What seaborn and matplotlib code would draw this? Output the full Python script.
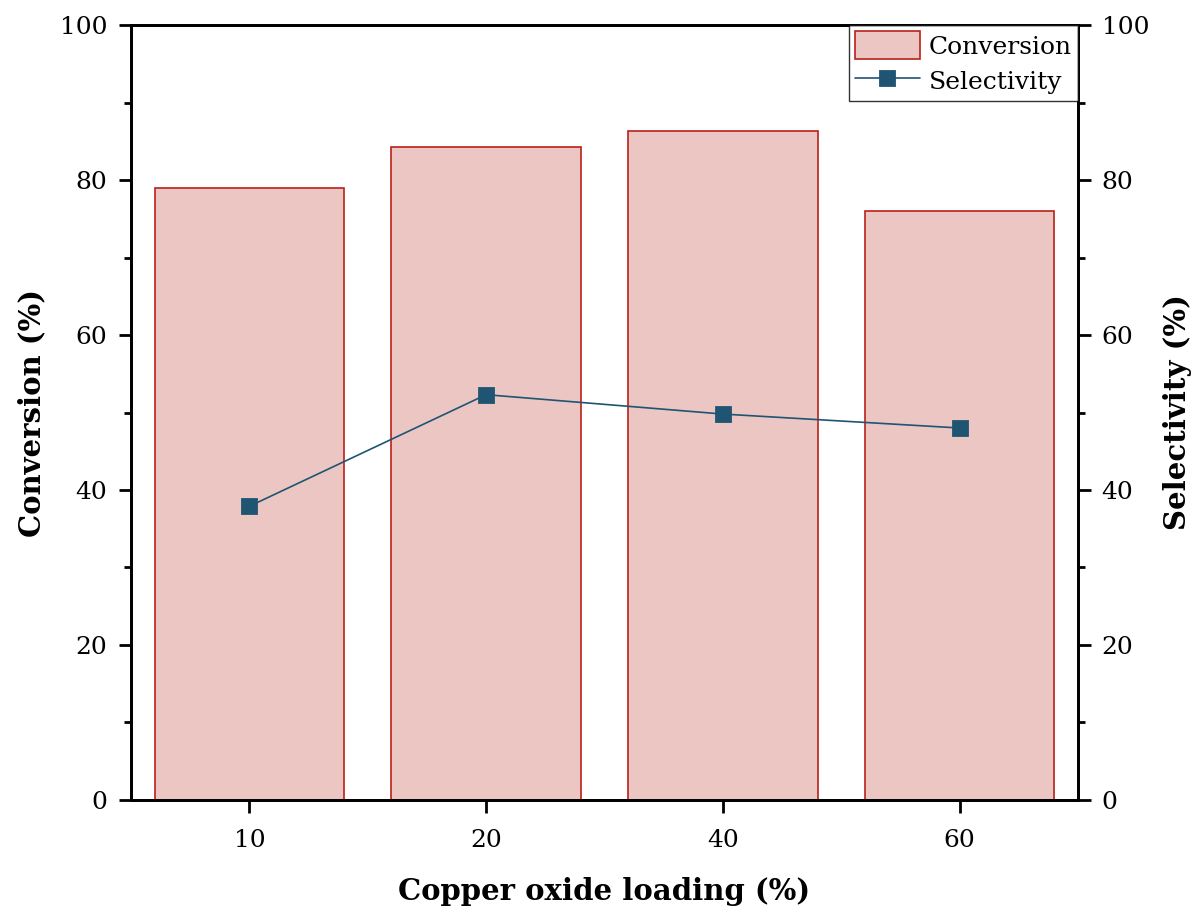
import matplotlib
matplotlib.use("Agg")
import matplotlib.pyplot as plt
from matplotlib.ticker import MultipleLocator
import seaborn as sns
import pandas as pd

# Catalyst screening data
loadings = ["10", "20", "40", "60"]
conversion = [79.0, 84.3, 86.3, 76.0]
selectivity = [37.9, 52.3, 49.8, 48.0]

sns.set_style("white")
plt.rcParams["font.family"] = ["DejaVu Serif"]
plt.rcParams["text.color"] = "black"
plt.rcParams["axes.labelcolor"] = "black"
plt.rcParams["xtick.color"] = "black"
plt.rcParams["ytick.color"] = "black"

df = pd.DataFrame({"loading": loadings, "conversion": conversion,
                   "selectivity": selectivity})

fig = plt.figure(figsize=(11.95, 9.07), dpi=100)
ax = fig.add_axes([0.1096, 0.118, 0.7925, 0.8544])

bar_fill = "#ECC6C3"
bar_edge = "#B8221A"
line_col = "#1F5473"

sns.barplot(data=df, x="loading", y="conversion", order=loadings,
            color=bar_fill, edgecolor=bar_edge, linewidth=1.2, width=0.8,
            saturation=1, ax=ax)

ax2 = ax.twinx()
sns.pointplot(data=df, x="loading", y="selectivity", order=loadings,
              color=line_col, markers="s", linestyles="-",
              ax=ax2)
for ln in ax2.lines:
    ln.set_linewidth(1.2)
    ln.set_markersize(10)

for a in (ax, ax2):
    a.set_xlim(-0.5, 3.5)
    a.set_ylim(0, 100)
    a.yaxis.set_major_locator(MultipleLocator(20))
    a.yaxis.set_minor_locator(MultipleLocator(10))
    for s in a.spines.values():
        s.set_color("black")
        s.set_linewidth(2)

ax.tick_params(axis="both", which="major", direction="out", length=9,
               width=2, labelsize=18, color="black", labelcolor="black",
               bottom=True, left=True, pad=8)
ax.tick_params(axis="x", which="major", pad=12)
ax.tick_params(axis="y", which="minor", direction="out", length=5,
               width=2, left=True)
ax2.tick_params(axis="y", which="major", direction="out", length=9,
                width=2, labelsize=18, labelcolor="black", right=True, pad=8)
ax2.tick_params(axis="y", which="minor", direction="out", length=5,
                width=2, right=True)

ax.set_xlabel("Copper oxide loading (%)", fontsize=21, fontweight="bold",
              labelpad=18, color="black")
ax.set_ylabel("Conversion (%)", fontsize=21, fontweight="bold", labelpad=10,
              color="black")
ax2.set_ylabel("Selectivity (%)", fontsize=21, fontweight="bold",
               labelpad=10, color="black")

handles = [ax.patches[0], ax2.lines[0]]
leg = ax2.legend(handles, ["Conversion", "Selectivity"], loc="upper right",
                 bbox_to_anchor=(1.0, 1.0), borderaxespad=0, fontsize=18,
                 frameon=True, fancybox=False, handlelength=2.6,
                 handleheight=1.35, borderpad=0.25, labelspacing=0.3,
                 handletextpad=0.35)
leg.get_frame().set_edgecolor("black")
leg.get_frame().set_linewidth(1.0)
for t in leg.get_texts():
    t.set_color("black")

fig.savefig("out.png", dpi=100)
